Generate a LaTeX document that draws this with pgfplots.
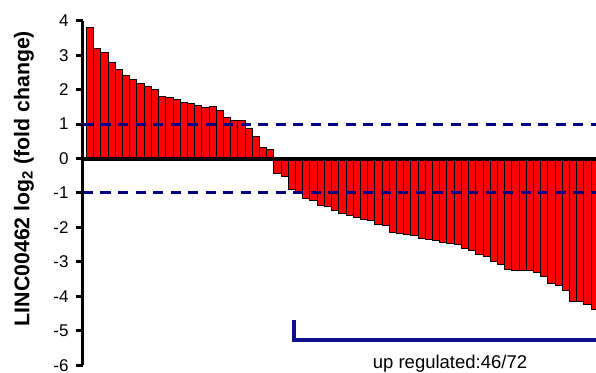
\documentclass[border=0pt]{standalone}
\usepackage{pgfplots}
\pgfplotsset{compat=1.18}
\usepackage{fontspec}
\setmainfont{Liberation Sans}
\definecolor{navy}{RGB}{0,0,128}
\definecolor{brk}{RGB}{15,15,140}
\begin{document}
\begin{tikzpicture}
\path[use as bounding box] (-83pt,-6.7pt) rectangle (513pt,365.3pt);
\begin{axis}[
 scale only axis, width=513pt, height=344.6pt,
 xmin=-0.985, xmax=70.17, ymin=-6, ymax=4,
 axis x line=none, axis y line*=left,
 clip=false,
 ytick={-6,-5,-4,-3,-2,-1,0,1,2,3,4},
 yticklabels={-6,-5,-4,-3,-2,-1,0,1,2,3,4},
 tick align=outside, major tick length=7pt,
 y axis line style={line width=3pt},
 ytick style={line width=3pt, black},
 yticklabel style={font=\fontsize{17}{20}\selectfont, xshift=-4pt},
 ylabel={LINC00462 log\textsubscript{2} (fold change)},
 ylabel style={font=\fontsize{21.3}{25}\selectfont\bfseries, at={(axis description cs:-0.115,0.542)}, anchor=center},
]
\addplot[ybar, bar width=1, bar shift=0pt, fill=red, draw=black, line width=1pt] coordinates {
(0,3.80) (1,3.19) (2,3.09) (3,2.79) (4,2.59) (5,2.40) (6,2.29) (7,2.19) (8,2.09) (9,2.00)
(10,1.79) (11,1.77) (12,1.72) (13,1.62) (14,1.59) (15,1.55) (16,1.48) (17,1.50) (18,1.40) (19,1.19)
(20,1.11) (21,1.09) (22,0.87) (23,0.63) (24,0.33) (25,0.26)
(26,-0.42) (27,-0.51) (28,-0.90) (29,-0.97) (30,-1.16) (31,-1.21) (32,-1.36) (33,-1.40) (34,-1.52) (35,-1.59)
(36,-1.64) (37,-1.71) (38,-1.76) (39,-1.81) (40,-1.91) (41,-1.93) (42,-2.14) (43,-2.17) (44,-2.20) (45,-2.23)
(46,-2.32) (47,-2.35) (48,-2.37) (49,-2.44) (50,-2.48) (51,-2.50) (52,-2.62) (53,-2.68) (54,-2.78) (55,-2.83)
(56,-2.99) (57,-3.07) (58,-3.22) (59,-3.24) (60,-3.26) (61,-3.26) (62,-3.32) (63,-3.41) (64,-3.63) (65,-3.67)
(66,-3.82) (67,-4.14) (68,-4.16) (69,-4.25) (70,-4.38)
};
\draw[line width=4pt] (axis cs:-0.985,0) -- (axis cs:70.6,0);
\draw[navy, line width=3pt, dash pattern=on 10pt off 7.5pt] (axis cs:-0.985,1) -- (axis cs:70.6,1);
\draw[navy, line width=3pt, dash pattern=on 10pt off 7.5pt] (axis cs:-0.985,-1) -- (axis cs:70.6,-1);
\draw[brk, line width=4pt, line join=miter] (axis cs:28.28,-4.685) -- (axis cs:28.28,-5.28) -- (axis cs:71,-5.28);
\node[font=\fontsize{18.5}{22}\selectfont, anchor=base] at (axis cs:49.92,-6.084) {up regulated:46/72};
\end{axis}
\end{tikzpicture}
\end{document}
